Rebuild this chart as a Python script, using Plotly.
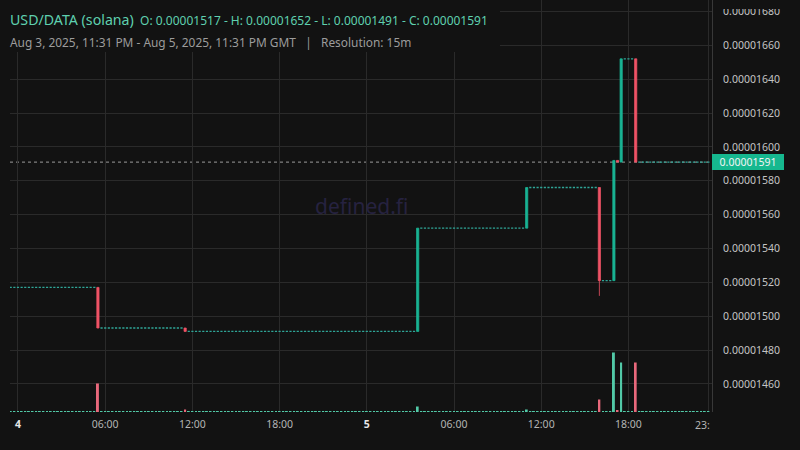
import pandas as pd
import plotly.graph_objects as go

# ---------------- data ----------------
PAIR = "USD/DATA (solana)"
PERIOD_TEXT = "Aug 3, 2025, 11:31 PM - Aug 5, 2025, 11:31 PM GMT"
RESOLUTION = "15m"
WATERMARK = "defined.fi"

BAR_START = "2025-08-03 23:30"
BAR_END = "2025-08-05 23:30"
BAR_FREQ = "15min"
START_PRICE = 0.00001517          # flat price before the first trade

# candles with trades (all others are flat, O=H=L=C=previous close)
ACTIVE_TIMES = ["2025-08-04 05:30", "2025-08-04 11:30", "2025-08-05 03:30",
                "2025-08-05 11:00", "2025-08-05 16:00", "2025-08-05 17:00",
                "2025-08-05 17:15", "2025-08-05 17:30", "2025-08-05 18:30"]
OPEN = [0.00001517, 0.00001493, 0.00001491, 0.00001552, 0.00001576,
        0.00001521, 0.00001592, 0.00001591, 0.00001652]
HIGH = [0.00001517, 0.00001493, 0.00001552, 0.00001576, 0.00001576,
        0.00001592, 0.00001592, 0.00001652, 0.00001652]
LOW = [0.00001493, 0.00001491, 0.00001491, 0.00001552, 0.00001512,
       0.00001521, 0.00001591, 0.00001591, 0.00001591]
CLOSE = [0.00001493, 0.00001491, 0.00001552, 0.00001576, 0.00001521,
         0.00001592, 0.00001591, 0.00001652, 0.00001591]
VOLUME = [285, 25, 55, 25, 125, 595, 15, 495, 495]
IDLE_VOLUME = 10

X_TICKS = ["2025-08-04 00:00", "2025-08-04 06:00", "2025-08-04 12:00", "2025-08-04 18:00",
           "2025-08-05 00:00", "2025-08-05 06:00", "2025-08-05 12:00", "2025-08-05 18:00",
           "2025-08-05 23:30"]
X_TICK_TEXT = ["4", "06:00", "12:00", "18:00", "5", "06:00", "12:00", "18:00", ""]
DAY_LABELS = ["4", "5"]
Y_TICKS = [0.00001460, 0.00001480, 0.00001500, 0.00001520, 0.00001540, 0.00001560,
           0.00001580, 0.00001600, 0.00001620, 0.00001640, 0.00001660, 0.00001680]

# ---------------- styling ----------------
BG = "#121212"
GRID = "#2a2a2a"
UP = "#19b393"
DOWN = "#ef5366"
DOJI = "#2fa597"
VOL_UP = "#52c9a7"
VOL_DOWN = "#e8687b"
FONT = "Noto Sans"

W, H = 800, 450
ML, MR, MT, MB = 10, 88, 0, 38
PW, PH = W - ML - MR, H - MT - MB


def px_x(px):
    return (px - ML) / PW


def px_y(py):
    return 1 - (py - MT) / PH


# ---------------- build series ----------------
bars = pd.date_range(BAR_START, BAR_END, freq=BAR_FREQ)
active = {pd.Timestamp(t): i for i, t in enumerate(ACTIVE_TIMES)}
doji_x, doji_p = [], []
vol_x, vol_y, vol_c = [], [], []
last = START_PRICE
for t in bars:
    if t in active:
        i = active[t]
        last = CLOSE[i]
        vol_x.append(t)
        vol_y.append(VOLUME[i])
        vol_c.append(VOL_UP if CLOSE[i] >= OPEN[i] else VOL_DOWN)
    else:
        doji_x.append(t)
        doji_p.append(last)
        vol_x.append(t)
        vol_y.append(IDLE_VOLUME)
        vol_c.append(VOL_UP)

fig = go.Figure()

fig.add_trace(go.Bar(
    x=vol_x, y=vol_y, marker=dict(color=vol_c, line=dict(width=0)),
    width=8 * 60 * 1000, yaxis="y2", hoverinfo="skip", showlegend=False))

fig.add_trace(go.Candlestick(
    x=doji_x, open=doji_p, high=doji_p, low=doji_p, close=doji_p,
    increasing=dict(line=dict(color=DOJI, width=1.4), fillcolor=DOJI),
    decreasing=dict(line=dict(color=DOJI, width=1.4), fillcolor=DOJI),
    whiskerwidth=0, showlegend=False, hoverinfo="skip"))

fig.add_trace(go.Candlestick(
    x=[pd.Timestamp(t) for t in ACTIVE_TIMES], open=OPEN, high=HIGH, low=LOW, close=CLOSE,
    increasing=dict(line=dict(color=UP, width=0.8), fillcolor=UP),
    decreasing=dict(line=dict(color=DOWN, width=0.8), fillcolor=DOWN),
    whiskerwidth=0, showlegend=False))

tick_text = [f"<span style='color:#e6e6e6;font-weight:bold'>{t}</span>" if t in DAY_LABELS else t
             for t in X_TICK_TEXT]

y_lo = 0.00001660 - (PH - 45.3) / 1.693 * 1e-8
y_hi = 0.00001660 + 45.3 / 1.693 * 1e-8

fig.update_layout(
    width=W, height=H,
    paper_bgcolor=BG, plot_bgcolor=BG,
    margin=dict(l=ML, r=MR, t=MT, b=MB),
    font=dict(family=FONT, color="#b4b4b4", size=10.5),
    boxgap=0.4, boxgroupgap=0.0,
    xaxis=dict(type="date", range=["2025-08-03 23:27", "2025-08-05 23:45"],
               rangeslider=dict(visible=False),
               tickvals=[pd.Timestamp(t) for t in X_TICKS], ticktext=tick_text,
               showgrid=True, gridcolor=GRID, gridwidth=1, zeroline=False,
               showline=False, ticks="", ticklabelstandoff=4,
               tickfont=dict(size=10.5, color="#b4b4b4")),
    yaxis=dict(side="right", range=[y_lo, y_hi], tickvals=Y_TICKS, tickformat=".8f",
               showgrid=True, gridcolor=GRID, gridwidth=1, zeroline=False,
               showline=True, linecolor="#383838", linewidth=1, ticks="",
               ticklabelstandoff=8, tickfont=dict(size=10.5, color="#c4c4c4")),
    yaxis2=dict(overlaying="y", range=[0, 595 * PH / 59.5], visible=False,
                showgrid=False, zeroline=False),
    showlegend=False,
)

# watermark
fig.add_annotation(x=px_x(361), y=px_y(206), xref="paper", yref="paper",
                   text=WATERMARK, showarrow=False,
                   font=dict(size=21, color="#262240", family=FONT))

# current price line + label
fig.add_shape(type="line", xref="paper", x0=0, x1=1, yref="y", y0=CLOSE[-1], y1=CLOSE[-1],
              line=dict(color="#9a9a9a", width=1, dash="dot"), layer="below")
fig.add_annotation(x=1.0, xref="paper", y=CLOSE[-1], yref="y", xanchor="left", yanchor="middle",
                   text=f"{CLOSE[-1]:.8f}", showarrow=False, bgcolor="#16b88f",
                   borderwidth=0, borderpad=1, width=70, height=14, align="center",
                   font=dict(size=10.5, color="#f4f4f4", family=FONT))

# title backdrop and clipping of the top price label
fig.add_shape(type="rect", xref="paper", yref="paper", x0=px_x(0), x1=px_x(500),
              y0=px_y(52), y1=px_y(0), fillcolor=BG, line=dict(width=0), layer="above")
fig.add_shape(type="rect", xref="paper", yref="paper", x0=px_x(713), x1=px_x(800),
              y0=px_y(9), y1=px_y(0) + 0.01, fillcolor=BG, line=dict(width=0), layer="above")

o_all, h_all, l_all, c_all = START_PRICE, max(HIGH), min(LOW), CLOSE[-1]
fig.add_annotation(x=px_x(8), y=px_y(20), xref="paper", yref="paper", xanchor="left",
                   yanchor="middle", showarrow=False,
                   text=(f"<span style='font-size:14.2px'>{PAIR}</span>\u00a0 "
                         f"O: {o_all:.8f} - H: {h_all:.8f} - L: {l_all:.8f} - C: {c_all:.8f}"),
                   font=dict(size=12, color="#5fd0af", family=FONT))
fig.add_annotation(x=px_x(8), y=px_y(42), xref="paper", yref="paper", xanchor="left",
                   yanchor="middle", showarrow=False,
                   text=f"{PERIOD_TEXT}\u00a0\u00a0 | \u00a0\u00a0Resolution: {RESOLUTION}",
                   font=dict(size=11.9, color="#9c9c9c", family=FONT))

# clipped last time label at the right edge
fig.add_annotation(x=px_x(712), y=px_y(425), xref="paper", yref="paper", xanchor="right",
                   yanchor="middle", showarrow=False, text="23:",
                   font=dict(size=10.5, color="#b4b4b4", family=FONT))

fig.write_html("out.html", config={"displayModeBar": False},
               post_script="document.body.style.margin='0px';document.body.style.overflow='hidden';")
